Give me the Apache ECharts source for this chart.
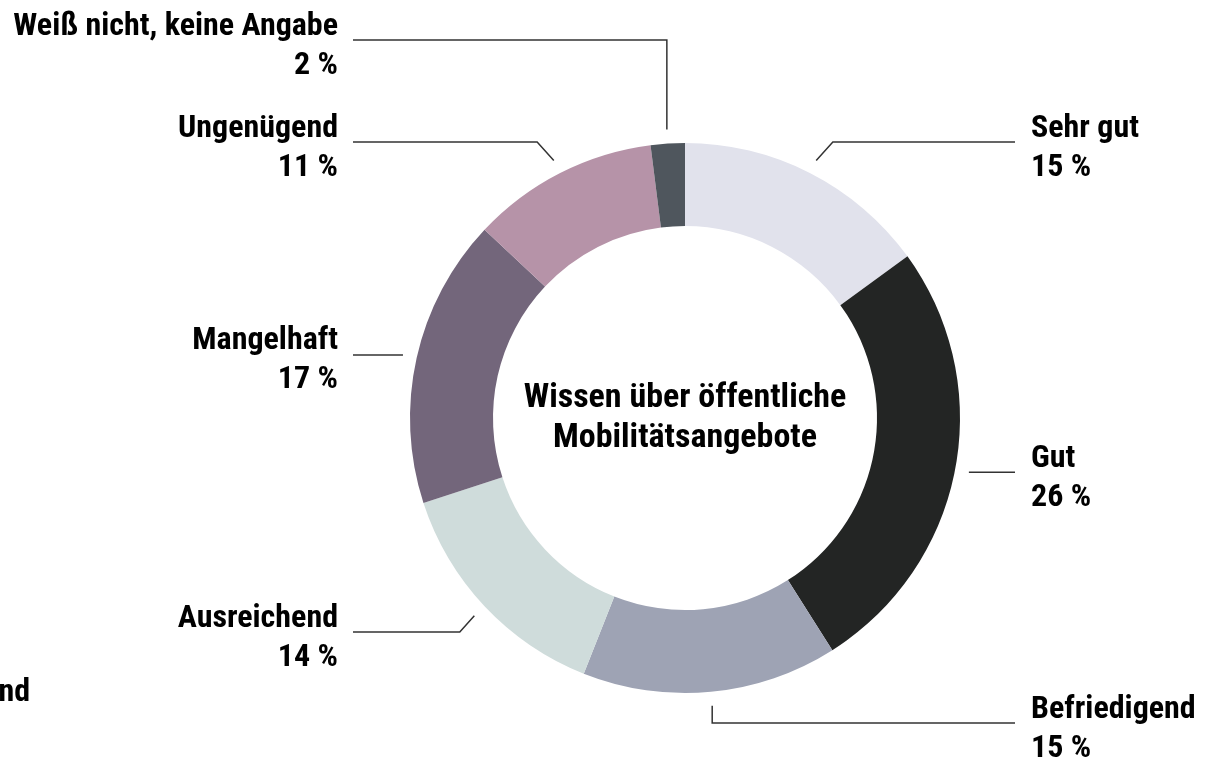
<!DOCTYPE html>
<html>
<head>
<meta charset="utf-8">
<script src="https://cdn.jsdelivr.net/npm/echarts@6/dist/echarts.min.js"></script>
<style>
  html, body { margin: 0; padding: 0; background: #fff; }
  #chart { width: 1222px; height: 759px; }
</style>
</head>
<body>
<div id="chart"></div>
<script>
// ---- data ----
var categories = ['Sehr gut', 'Gut', 'Befriedigend', 'Ausreichend', 'Mangelhaft', 'Ungenügend', 'Weiß nicht, keine Angabe'];
var values = [15, 26, 15, 14, 17, 11, 2];
var colors = ['#e1e2ec', '#232524', '#9ea3b4', '#cfdcdb', '#73667b', '#b693a8', '#4f565d'];
var centerTitle = 'Wissen über öffentliche\nMobilitätsangebote';

// ---- layout (not data) ----
var FONT = "'Liberation Sans Narrow', 'Arial Narrow', 'Roboto Condensed', 'Liberation Sans', sans-serif";
var CX = 685, CY = 418, R_IN = 192, R_OUT = 275, R_LINE = 289;
// leader geometry per slice: line y (null = keep anchor y) and elbow kind
var leaderY = [142, null, 723, 632, null, 142, 40];
var leaderKind = ['diag', 'flat', 'vert', 'diag', 'flat', 'diag', 'vert'];
var RIGHT_END = 1015, LEFT_END = 353, RIGHT_TEXT = 1031, LEFT_TEXT = 338;

var total = values.reduce(function (a, b) { return a + b; }, 0);
function midAngle(i) {
  var before = 0;
  for (var k = 0; k < i; k++) before += values[k];
  return (before + values[i] / 2) / total * Math.PI * 2;
}

var chart = echarts.init(document.getElementById('chart'), null, { renderer: 'canvas' });
chart.setOption({
  backgroundColor: '#ffffff',
  animation: false,
  graphic: [
    {
      type: 'text',
      x: CX, y: CY,
      style: {
        text: centerTitle, fontFamily: FONT, fontWeight: 'bold', fontSize: 34, fill: '#000',
        align: 'center', verticalAlign: 'middle', lineHeight: 40
      }
    },
    {
      type: 'text',
      x: 30, y: 693,
      style: { text: 'nd', fontFamily: FONT, fontWeight: 'bold', fontSize: 32, fill: '#000', align: 'right', verticalAlign: 'middle' }
    }
  ],
  series: [{
    type: 'pie',
    center: [CX, CY],
    radius: [R_IN, R_OUT],
    startAngle: 90,
    clockwise: true,
    avoidLabelOverlap: false,
    silent: true,
    data: categories.map(function (c, i) {
      return { name: c, value: values[i], itemStyle: { color: colors[i] } };
    }),
    label: {
      show: true,
      position: 'outside',
      formatter: '{b}\n{c} %',
      fontFamily: FONT,
      fontWeight: 'bold',
      fontSize: 32,
      lineHeight: 39,
      color: '#000'
    },
    labelLine: {
      show: true,
      smooth: false,
      lineStyle: { color: '#333', width: 1.5 }
    },
    labelLayout: function (p) {
      var i = p.dataIndex;
      var a = midAngle(i);
      var px = CX + R_LINE * Math.sin(a);
      var py = CY - R_LINE * Math.cos(a);
      var right = Math.sin(a) > 0;
      var ly = leaderY[i] == null ? py : leaderY[i];
      var ex = px, ey = ly;
      if (leaderKind[i] === 'diag') {
        ex = px + (right ? 1 : -1) * Math.abs(ly - py) * 0.9;
      }
      var endX = right ? RIGHT_END : LEFT_END;
      return {
        x: right ? RIGHT_TEXT : LEFT_TEXT,
        y: ly + 6,
        align: right ? 'left' : 'right',
        verticalAlign: 'middle',
        labelLinePoints: [[px, py], [ex, ey], [endX, ly]]
      };
    }
  }]
});
</script>
</body>
</html>
